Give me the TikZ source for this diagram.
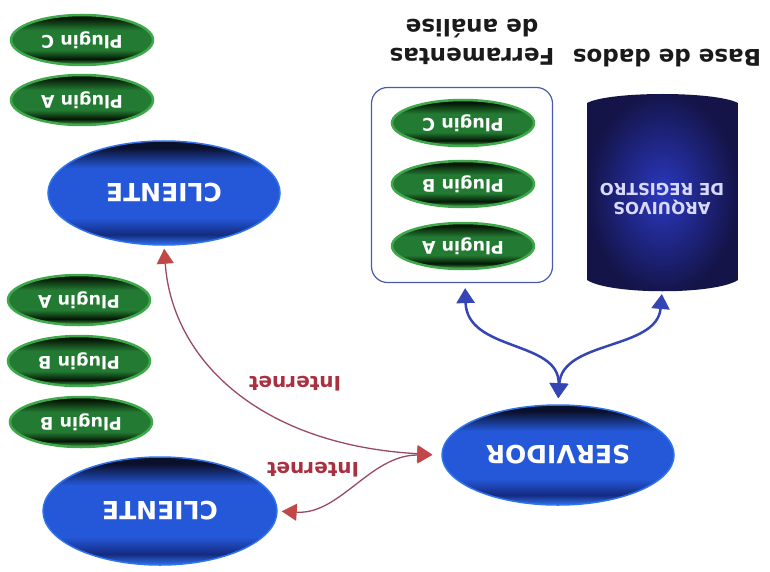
\documentclass[tikz,border=0pt]{standalone}
\usepackage{fontspec}
\setmainfont{DejaVu Sans}
\usepackage{graphicx}
\usetikzlibrary{shapes.geometric,arrows.meta}
\definecolor{navyDark}{HTML}{0A0F2A}
\definecolor{blueDeep}{HTML}{142A80}
\definecolor{blueBody}{HTML}{2458D8}
\definecolor{blueRim}{HTML}{2E74EC}
\definecolor{greenDark}{HTML}{051605}
\definecolor{greenDeep}{HTML}{0E3A14}
\definecolor{greenBody}{HTML}{237A32}
\definecolor{greenRim}{HTML}{3EA84A}
\definecolor{dbInner}{HTML}{2A38C0}
\definecolor{dbOuter}{HTML}{141448}
\definecolor{boxBlue}{HTML}{4A5AB0}
\definecolor{arrBlue}{HTML}{3545B5}
\definecolor{arrRedLine}{HTML}{9A4A60}
\definecolor{arrRed}{HTML}{C04848}
\definecolor{labRed}{HTML}{A83040}
\definecolor{labDark}{HTML}{1A1A1A}
\pgfdeclareverticalshading{blueell}{100bp}{color(0bp)=(blueRim); color(25bp)=(blueRim); color(30bp)=(blueDeep); color(38bp)=(blueBody); color(62bp)=(blueBody); color(72bp)=(navyDark); color(100bp)=(navyDark)}
\pgfdeclareverticalshading{greenell}{100bp}{color(0bp)=(greenRim); color(25bp)=(greenRim); color(31bp)=(greenDark); color(40bp)=(greenBody); color(60bp)=(greenBody); color(72bp)=(greenDark); color(100bp)=(greenDark)}
\newcommand{\ud}[1]{\rotatebox[origin=c]{180}{#1}}
\begin{document}
\begin{tikzpicture}[x=1pt,y=-1pt,
  bigell/.style={ellipse, inner sep=0pt, minimum width=232pt, minimum height=104pt,
    draw=blueRim, line width=1.5pt, shading=blueell,
    text=white, font=\bfseries\fontsize{25}{25}\selectfont},
  plug/.style={ellipse, inner sep=0pt, minimum width=142pt, minimum height=50pt,
    draw=greenRim, line width=2.5pt, shading=greenell,
    text=white, font=\bfseries\fontsize{17.5}{17.5}\selectfont},
  title/.style={inner sep=0pt, text=labDark, font=\bfseries\fontsize{23}{23}\selectfont},
  netlab/.style={inner sep=0pt, text=labRed, font=\bfseries\fontsize{20}{20}\selectfont},
  barrow/.style={draw=arrBlue, line width=2.5pt, {Triangle[length=15pt,width=18pt,fill=arrBlue]}-{Triangle[length=15pt,width=18pt,fill=arrBlue]}},
  rarrow/.style={draw=arrRedLine, line width=1.3pt, {Triangle[length=15pt,width=17pt,fill=arrRed,color=arrRed]}-{Triangle[length=15pt,width=17pt,fill=arrRed,color=arrRed]}}
]
\useasboundingbox (0,0) rectangle (770,572);
\fill[white] (0,0) rectangle (770,572);

% left column
\node[plug] (pc1) at (82,40) {\ud{Plugin C}};
\node[plug] (pa1) at (82,100) {\ud{Plugin A}};
\node[bigell] (c1) at (164,193) {\ud{CLIENTE}};
\node[plug] (pa2) at (79,300) {\ud{Plugin A}};
\node[plug] (pb2) at (79,361) {\ud{Plugin B}};
\node[plug] (pb3) at (81,422) {\ud{Plugin B}};
\node[bigell, minimum width=234pt, minimum height=108pt] (c2) at (160,511) {\ud{CLIENTE}};

% server
\node[bigell, minimum height=100pt] (serv) at (558,455) {\ud{SERVIDOR}};

% tools box
\node[draw=boxBlue, line width=1.2pt, rounded corners=16pt, minimum width=181pt, minimum height=195pt] (tools) at (462,185) {};
\node[plug, minimum height=46pt] (tpc) at (463,123) {\ud{Plugin C}};
\node[plug, minimum height=46pt] (tpb) at (463,184) {\ud{Plugin B}};
\node[plug, minimum height=46pt] (tpa) at (463,246) {\ud{Plugin A}};

% database
\shade[shading=radial, inner color=dbInner, outer color=dbOuter]
  (587,103) .. controls (610,91) and (715,91) .. (738,103) -- (738,280)
  .. controls (715,295) and (610,295) .. (587,280) -- cycle;
\node[inner sep=0pt, text=white!85!blue, font=\bfseries\fontsize{16.5}{16.5}\selectfont] (db) at (662,197)
  {\ud{\begin{tabular}{@{}c@{}}ARQUIVOS\\[2pt]DE REGISTRO\end{tabular}}};
\coordinate (dbb) at (662,292);

% titles
\node[title] (tdb) at (667,58) {\ud{Base de dados}};
\node[title] (ttools) at (472,39) {\ud{\begin{tabular}{@{}c@{}}Ferramentas\\[4pt]de análise\end{tabular}}};

% blue connectors
\draw[barrow, shorten <=5pt, shorten >=6pt] ([xshift=3pt]tools.south) .. controls (467,352) and (560,340) .. (serv.north);
\draw[barrow, shorten <=2pt, shorten >=6pt] (dbb) .. controls (657,350) and (562,340) .. (serv.north);

% red connectors
\draw[rarrow, shorten <=3pt, shorten >=9pt] (c1.south) .. controls (172,360) and (260,445) .. (serv.west);
\draw[rarrow, shorten <=4pt, shorten >=9pt] (c2.east) .. controls (340,515) and (370,455) .. (serv.west);

\node[netlab] (n1) at (295,384) {\ud{Internet}};
\node[netlab] (n2) at (313,470) {\ud{Internet}};
\end{tikzpicture}
\end{document}
